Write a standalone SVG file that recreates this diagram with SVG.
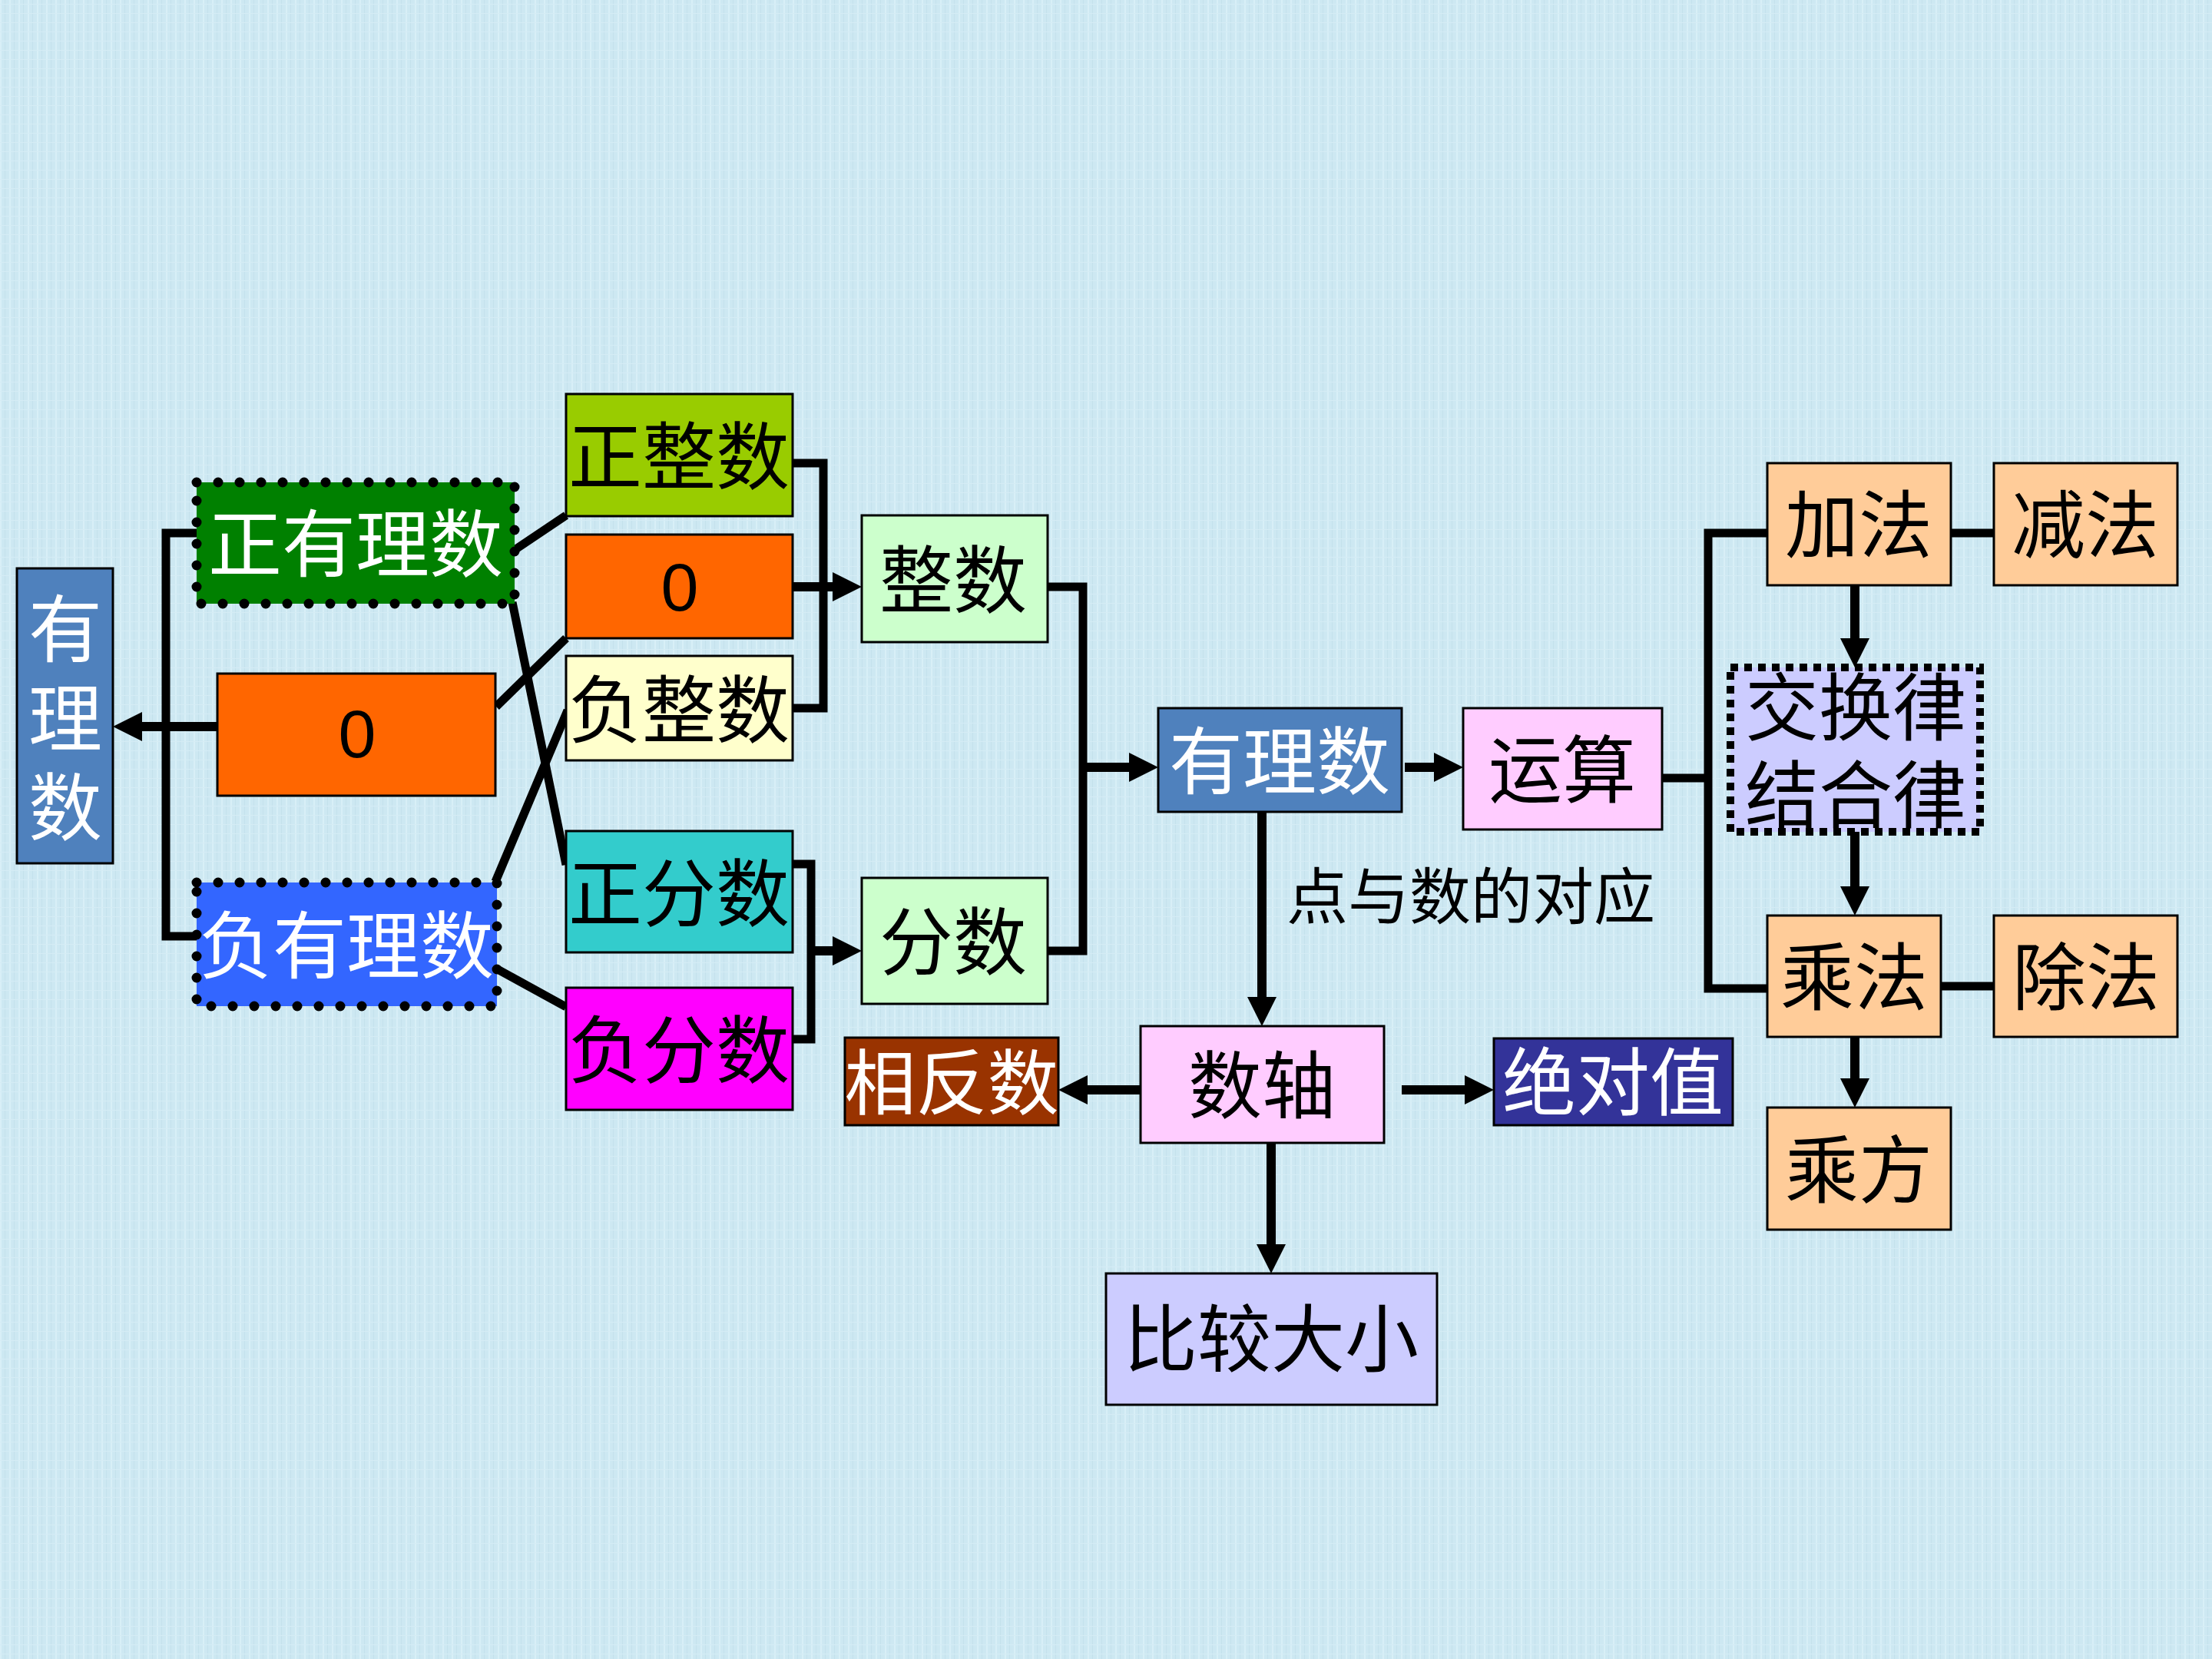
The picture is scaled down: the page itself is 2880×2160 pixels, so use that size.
<svg xmlns="http://www.w3.org/2000/svg" width="2880" height="2160" viewBox="0 0 2880 2160">
<defs>
<style>
.box{stroke:#000;stroke-width:3}
.dot{stroke:#000;stroke-width:13;stroke-linecap:round;stroke-dasharray:0 28}
.sq{stroke:#000;stroke-width:10;stroke-dasharray:10 8}
.t{font-family:"Noto Sans CJK SC","Noto Sans",sans-serif;font-size:96px;text-anchor:middle;fill:#000}
.w{fill:#fff}
.vt{font-family:"Noto Sans CJK SC","Noto Sans",sans-serif;font-size:96px;fill:#fff;writing-mode:vertical-rl;letter-spacing:20px}
.num{font-family:"Liberation Sans",Arial,sans-serif;font-size:88px;text-anchor:middle;fill:#000}
.lbl{font-family:"Noto Sans CJK SC","Noto Sans",sans-serif;font-size:80px;fill:#000}
.c{fill:none;stroke:#000;stroke-width:11;stroke-linejoin:miter}
.a{fill:none;stroke:#000;stroke-width:12;marker-end:url(#ah)}
</style>
<marker id="ah" markerUnits="userSpaceOnUse" markerWidth="40" markerHeight="40" refX="2" refY="19" orient="auto" viewBox="0 0 40 40">
<path d="M0,0 L38,19 L0,38 z" fill="#000"/>
</marker>
<pattern id="tex" width="12" height="12" patternUnits="userSpaceOnUse">
<rect width="12" height="12" fill="#CDE8F2"/>
<rect x="0" y="0" width="2" height="12" fill="#D8EFF7"/>
<rect x="6" y="0" width="1" height="12" fill="#C4E1EC"/>
<rect x="0" y="5" width="12" height="1" fill="#D5ECF5"/>
</pattern>
</defs>
<rect width="2880" height="2160" fill="url(#tex)"/>

<g id="connectors">
<polyline class="c" points="256,694 216,694 216,1219 256,1219"/>
<line class="a" x1="283" y1="946" x2="183" y2="946"/>
<line class="c" x1="670" y1="716" x2="737" y2="671"/>
<line class="c" x1="667" y1="784" x2="737" y2="1126"/>
<line class="c" x1="646" y1="920" x2="737" y2="831"/>
<line class="c" x1="645" y1="1148" x2="739" y2="925"/>
<line class="c" x1="646" y1="1261" x2="737" y2="1311"/>
<polyline class="c" points="1031,603 1072,603 1072,922 1031,922"/>
<line class="a" x1="1031" y1="764" x2="1086" y2="764"/>
<polyline class="c" points="1031,1125 1056,1125 1056,1353 1031,1353"/>
<line class="a" x1="1056" y1="1238" x2="1086" y2="1238"/>
<polyline class="c" points="1364,764 1410,764 1410,1238 1364,1238"/>
<line class="a" x1="1410" y1="999" x2="1472" y2="999"/>
<line class="a" x1="1829" y1="999" x2="1869" y2="999"/>
<line class="a" x1="1643" y1="1057" x2="1643" y2="1300"/>
<line class="a" x1="1485" y1="1419" x2="1414" y2="1419"/>
<line class="a" x1="1825" y1="1419" x2="1909" y2="1419"/>
<line class="a" x1="1655" y1="1488" x2="1655" y2="1622"/>
<polyline class="c" points="2164,1013 2224,1013"/>
<polyline class="c" points="2301,694 2224,694 2224,1287 2301,1287"/>
<line class="c" x1="2540" y1="694" x2="2596" y2="694"/>
<line class="c" x1="2527" y1="1284" x2="2596" y2="1284"/>
<line class="a" x1="2415" y1="762" x2="2415" y2="833"/>
<line class="a" x1="2415" y1="1083" x2="2415" y2="1156"/>
<line class="a" x1="2415" y1="1350" x2="2415" y2="1406"/>
</g>

<g id="n-youlishu-v">
<rect class="box" x="22" y="740" width="125" height="384" fill="#4F81BD"/>
<text class="vt" x="85" y="770">有理数</text>
</g>
<g id="n-zhengyoulishu">
<rect x="256" y="628" width="414" height="158" fill="#008000"/>
<rect class="dot" x="256" y="628" width="414" height="158" fill="none"/>
<text class="t w" x="463" y="743">正有理数</text>
</g>
<g id="n-zero-left">
<rect class="box" x="283" y="877" width="362" height="159" fill="#FF6600"/>
<text class="num" x="465" y="986">0</text>
</g>
<g id="n-fuyoulishu">
<rect x="256" y="1149" width="391" height="161" fill="#3366FF"/>
<rect class="dot" x="256" y="1149" width="391" height="161" fill="none"/>
<text class="t w" x="451" y="1266">负有理数</text>
</g>
<g id="n-zhengzhengshu">
<rect class="box" x="737" y="513" width="295" height="159" fill="#99CC00"/>
<text class="t" x="884" y="629">正整数</text>
</g>
<g id="n-zero-right">
<rect class="box" x="737" y="696" width="295" height="135" fill="#FF6600"/>
<text class="num" x="885" y="795">0</text>
</g>
<g id="n-fuzhengshu">
<rect class="box" x="737" y="854" width="295" height="136" fill="#FFFFCC"/>
<text class="t" x="884" y="959">负整数</text>
</g>
<g id="n-zhengfenshu">
<rect class="box" x="737" y="1082" width="295" height="158" fill="#33CCCC"/>
<text class="t" x="884" y="1198">正分数</text>
</g>
<g id="n-fufenshu">
<rect class="box" x="737" y="1286" width="295" height="159" fill="#FF00FF"/>
<text class="t" x="884" y="1402">负分数</text>
</g>
<g id="n-zhengshu">
<rect class="box" x="1122" y="671" width="242" height="165" fill="#CCFFCC"/>
<text class="t" x="1241" y="790">整数</text>
</g>
<g id="n-fenshu">
<rect class="box" x="1122" y="1143" width="242" height="164" fill="#CCFFCC"/>
<text class="t" x="1241" y="1261">分数</text>
</g>
<g id="n-youlishu">
<rect class="box" x="1508" y="922" width="317" height="135" fill="#4F81BD"/>
<text class="t w" x="1666" y="1026">有理数</text>
</g>
<g id="n-yunsuan">
<rect class="box" x="1905" y="922" width="259" height="158" fill="#FFCCFF"/>
<text class="t" x="2034" y="1037">运算</text>
</g>
<g id="label-duiying">
<text class="lbl" x="1675" y="1196">点与数的对应</text>
</g>
<g id="n-jiafa">
<rect class="box" x="2301" y="603" width="239" height="159" fill="#FFCC99"/>
<text class="t" x="2420" y="718">加法</text>
</g>
<g id="n-jianfa">
<rect class="box" x="2596" y="603" width="239" height="159" fill="#FFCC99"/>
<text class="t" x="2715" y="718">减法</text>
</g>
<g id="n-lv">
<rect x="2253" y="869" width="325" height="214" fill="#CCCCFF"/>
<rect class="sq" x="2253" y="869" width="325" height="214" fill="none"/>
<text class="t" x="2416" y="956">交换律<tspan x="2416" y="1070">结合律</tspan></text>
</g>
<g id="n-chengfa">
<rect class="box" x="2301" y="1192" width="226" height="158" fill="#FFCC99"/>
<text class="t" x="2414" y="1307">乘法</text>
</g>
<g id="n-chufa">
<rect class="box" x="2596" y="1192" width="239" height="158" fill="#FFCC99"/>
<text class="t" x="2716" y="1307">除法</text>
</g>
<g id="n-chengfang">
<rect class="box" x="2301" y="1442" width="239" height="159" fill="#FFCC99"/>
<text class="t" x="2420" y="1558">乘方</text>
</g>
<g id="n-shuzhou">
<rect class="box" x="1485" y="1336" width="317" height="152" fill="#FFCCFF"/>
<text class="t" x="1643" y="1448">数轴</text>
</g>
<g id="n-xiangfanshu">
<rect class="box" x="1100" y="1351" width="278" height="114" fill="#993300"/>
<text class="t w" x="1239" y="1444" style="font-size:93px">相反数</text>
</g>
<g id="n-juedui">
<rect class="box" x="1945" y="1352" width="311" height="113" fill="#333399"/>
<text class="t w" x="2100" y="1444">绝对值</text>
</g>
<g id="n-bijiao">
<rect class="box" x="1440" y="1658" width="431" height="171" fill="#CCCCFF"/>
<text class="t" x="1655" y="1778">比较大小</text>
</g>
</svg>
